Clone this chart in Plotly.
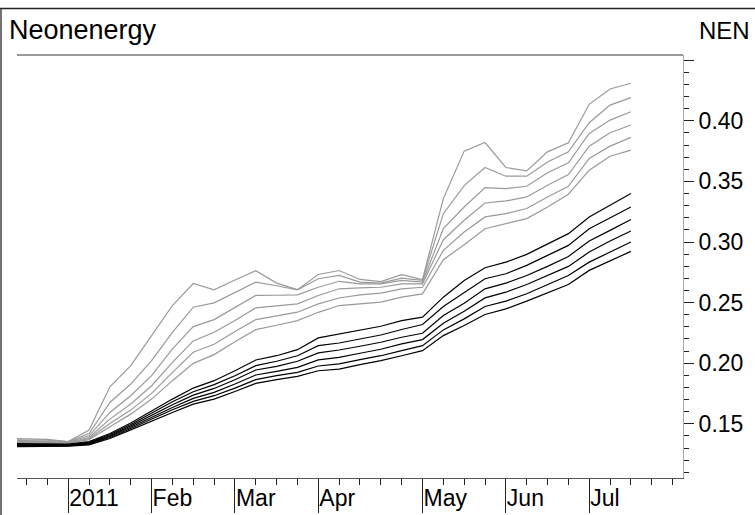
import plotly.graph_objects as go

weeks = ["2010-12-17", "2010-12-24", "2010-12-31", "2011-01-07", "2011-01-14", "2011-01-21",
         "2011-01-28", "2011-02-04", "2011-02-11", "2011-02-18", "2011-02-25", "2011-03-04",
         "2011-03-11", "2011-03-18", "2011-03-25", "2011-04-01", "2011-04-08", "2011-04-15",
         "2011-04-22", "2011-04-29", "2011-05-06", "2011-05-13", "2011-05-20", "2011-05-27",
         "2011-06-03", "2011-06-10", "2011-06-17", "2011-06-24", "2011-07-01", "2011-07-08",
         "2011-07-15"]

grey1 = [0.1380, 0.1373, 0.1372, 0.1354, 0.1448, 0.1806, 0.1980, 0.2228, 0.2476, 0.2658, 0.2606,
         0.2686, 0.2763, 0.2661, 0.2607, 0.2732, 0.2765, 0.2691, 0.2674, 0.2730, 0.2691, 0.3358,
         0.3750, 0.3821, 0.3615, 0.3587, 0.3744, 0.3819, 0.4136, 0.4263, 0.4310]
grey2 = [0.1372, 0.1365, 0.1366, 0.1351, 0.1420, 0.1676, 0.1828, 0.2021, 0.2255, 0.2462, 0.2498,
         0.2585, 0.2669, 0.2639, 0.2605, 0.2697, 0.2724, 0.2669, 0.2661, 0.2702, 0.2683, 0.3234,
         0.3466, 0.3615, 0.3543, 0.3543, 0.3661, 0.3744, 0.3984, 0.4130, 0.4191]
grey3 = [0.1366, 0.1359, 0.1358, 0.1348, 0.1401, 0.1594, 0.1732, 0.1897, 0.2118, 0.2302, 0.2360,
         0.2460, 0.2559, 0.2561, 0.2564, 0.2627, 0.2676, 0.2655, 0.2655, 0.2683, 0.2669, 0.3110,
         0.3289, 0.3449, 0.3441, 0.3460, 0.3571, 0.3653, 0.3896, 0.4006, 0.4075]
grey4 = [0.1360, 0.1354, 0.1352, 0.1346, 0.1387, 0.1539, 0.1663, 0.1814, 0.2007, 0.2184, 0.2255,
         0.2352, 0.2457, 0.2473, 0.2490, 0.2559, 0.2614, 0.2622, 0.2627, 0.2655, 0.2655, 0.3019,
         0.3179, 0.3322, 0.3339, 0.3372, 0.3469, 0.3557, 0.3791, 0.3901, 0.3965]
grey5 = [0.1354, 0.1348, 0.1347, 0.1343, 0.1379, 0.1503, 0.1613, 0.1751, 0.1925, 0.2090, 0.2157,
         0.2261, 0.2360, 0.2391, 0.2421, 0.2490, 0.2538, 0.2564, 0.2578, 0.2614, 0.2627, 0.2931,
         0.3083, 0.3207, 0.3234, 0.3276, 0.3372, 0.3460, 0.3689, 0.3791, 0.3863]
grey6 = [0.1348, 0.1343, 0.1341, 0.1340, 0.1370, 0.1475, 0.1580, 0.1704, 0.1856, 0.1999, 0.2071,
         0.2178, 0.2277, 0.2313, 0.2352, 0.2420, 0.2476, 0.2490, 0.2504, 0.2545, 0.2572, 0.2854,
         0.2978, 0.3110, 0.3152, 0.3193, 0.3289, 0.3394, 0.3593, 0.3708, 0.3758]

black1 = [0.1337, 0.1337, 0.1334, 0.1332, 0.1354, 0.1420, 0.1506, 0.1608, 0.1704, 0.1795, 0.1856,
          0.1938, 0.2027, 0.2062, 0.2112, 0.2209, 0.2242, 0.2275, 0.2305, 0.2352, 0.2380, 0.2545,
          0.2683, 0.2788, 0.2834, 0.2898, 0.2986, 0.3069, 0.3207, 0.3303, 0.3400]
black2 = [0.1332, 0.1332, 0.1330, 0.1329, 0.1348, 0.1412, 0.1494, 0.1588, 0.1682, 0.1765, 0.1823,
          0.1897, 0.1980, 0.2016, 0.2062, 0.2145, 0.2167, 0.2200, 0.2233, 0.2278, 0.2319, 0.2468,
          0.2586, 0.2697, 0.2738, 0.2807, 0.2890, 0.2972, 0.3110, 0.3201, 0.3289]
black3 = [0.1326, 0.1326, 0.1326, 0.1324, 0.1343, 0.1403, 0.1483, 0.1572, 0.1657, 0.1737, 0.1792,
          0.1864, 0.1944, 0.1974, 0.2016, 0.2085, 0.2109, 0.2140, 0.2173, 0.2214, 0.2247, 0.2393,
          0.2495, 0.2614, 0.2661, 0.2724, 0.2799, 0.2881, 0.3008, 0.3096, 0.3185]
black4 = [0.1321, 0.1321, 0.1321, 0.1321, 0.1337, 0.1395, 0.1472, 0.1555, 0.1635, 0.1710, 0.1759,
          0.1828, 0.1903, 0.1933, 0.1966, 0.2027, 0.2048, 0.2082, 0.2115, 0.2159, 0.2195, 0.2330,
          0.2429, 0.2539, 0.2586, 0.2650, 0.2724, 0.2799, 0.2917, 0.3008, 0.3091]
black5 = [0.1317, 0.1318, 0.1318, 0.1318, 0.1332, 0.1387, 0.1461, 0.1539, 0.1616, 0.1685, 0.1732,
          0.1795, 0.1864, 0.1897, 0.1925, 0.1977, 0.1994, 0.2029, 0.2062, 0.2104, 0.2145, 0.2275,
          0.2366, 0.2468, 0.2512, 0.2573, 0.2650, 0.2724, 0.2834, 0.2917, 0.3000]
black6 = [0.1312, 0.1313, 0.1313, 0.1315, 0.1326, 0.1379, 0.1450, 0.1525, 0.1594, 0.1663, 0.1704,
          0.1767, 0.1834, 0.1864, 0.1892, 0.1938, 0.1952, 0.1988, 0.2021, 0.2062, 0.2104, 0.2228,
          0.2311, 0.2402, 0.2448, 0.2512, 0.2578, 0.2650, 0.2766, 0.2843, 0.2923]

month_ticks = ["2011-01-07", "2011-02-04", "2011-03-04", "2011-04-01", "2011-05-06", "2011-06-03", "2011-07-01"]
month_labels = ["2011", "Feb", "Mar", "Apr", "May", "Jun", "Jul"]
y_ticks = [0.15, 0.20, 0.25, 0.30, 0.35, 0.40, 0.45]
y_labels = ["0.15", "0.20", "0.25", "0.30", "0.35", "0.40", ""]

FONT = "Liberation Sans, Arial, sans-serif"

fig = go.Figure()
for s in [grey1, grey2, grey3, grey4, grey5, grey6]:
    fig.add_trace(go.Scatter(x=weeks, y=s, mode="lines",
                             line=dict(color="#9a9a9a", width=1.2), hoverinfo="skip"))
for s in [black1, black2, black3, black4, black5, black6]:
    fig.add_trace(go.Scatter(x=weeks, y=s, mode="lines",
                             line=dict(color="#000000", width=1.2), hoverinfo="skip"))

W, H = 755, 515
L, R, T, B = 17, 72, 55, 37
pw, ph = W - L - R, H - T - B


def px(xp):
    return (xp - L) / pw


def py(yp):
    return (H - B - yp) / ph


fig.update_layout(
    width=W, height=H,
    margin=dict(l=L, r=R, t=T, b=B, pad=0, autoexpand=False),
    paper_bgcolor="white", plot_bgcolor="white",
    showlegend=False,
    font=dict(family=FONT, size=23, color="black"),
    xaxis=dict(
        type="date", automargin=False,
        range=["2010-12-20 19:00", "2011-08-01 12:00"],
        tickmode="array", tickvals=month_ticks, ticktext=month_labels,
        ticks="outside", ticklen=34, tickwidth=1, tickcolor="#222",
        ticklabelposition="outside right",
        ticklabelstandoff=-1,
        tickfont=dict(family=FONT, size=23, color="black"),
        showline=True, linecolor="#555", linewidth=1,
        showgrid=False, zeroline=False,
        minor=dict(ticks="outside", ticklen=6, tickwidth=1, tickcolor="#222",
                   dtick=7 * 86400000, tick0="2011-01-07", showgrid=False),
    ),
    yaxis=dict(
        side="right", automargin=False,
        range=[0.1053, 0.4543],
        tickmode="array", tickvals=y_ticks, ticktext=y_labels,
        ticks="outside", ticklen=10, tickwidth=1, tickcolor="#222",
        tickfont=dict(family=FONT, size=23, color="black"),
        showline=True, linecolor="#aaa", linewidth=1,
        showgrid=False, zeroline=False,
        minor=dict(ticks="outside", ticklen=5, tickwidth=1, tickcolor="#222",
                   dtick=0.01, tick0=0.10, showgrid=False),
    ),
    shapes=[
        dict(type="line", xref="paper", yref="paper", x0=0, x1=1, y0=1, y1=1,
             line=dict(color="#777", width=1.5)),
        dict(type="line", xref="paper", yref="paper", x0=px(-5), x1=px(W + 5), y0=py(8.5), y1=py(8.5),
             line=dict(color="#222", width=1.5)),
        dict(type="line", xref="paper", yref="paper", x0=px(1), x1=px(1), y0=py(8.5), y1=py(H + 5),
             line=dict(color="#444", width=1.5)),
    ],
    annotations=[
        dict(text="Neonenergy", xref="paper", yref="paper", x=px(7), y=py(30),
             xanchor="left", yanchor="middle", showarrow=False,
             font=dict(family=FONT, size=27, color="black")),
        dict(text="NEN", xref="paper", yref="paper", x=px(752), y=py(30),
             xanchor="right", yanchor="middle", showarrow=False,
             font=dict(family=FONT, size=24, color="black")),
    ],
)

fig.write_html("out.html", config={"displayModeBar": False},
               post_script="document.body.style.margin='0';document.body.style.overflow='hidden';")
